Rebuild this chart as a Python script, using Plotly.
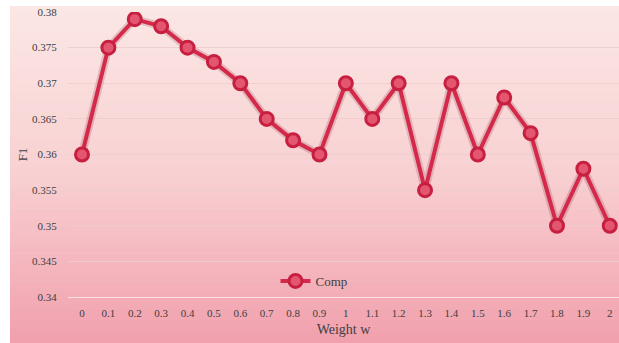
import plotly.graph_objects as go

# F1 score of the "Comp" model for each weight w
weights = ["0", "0.1", "0.2", "0.3", "0.4", "0.5", "0.6", "0.7", "0.8", "0.9", "1",
           "1.1", "1.2", "1.3", "1.4", "1.5", "1.6", "1.7", "1.8", "1.9", "2"]
comp_f1 = [0.360, 0.375, 0.379, 0.378, 0.375, 0.373, 0.370, 0.365, 0.362, 0.360, 0.370,
           0.365, 0.370, 0.355, 0.370, 0.360, 0.368, 0.363, 0.350, 0.358, 0.350]
y_ticks = [0.34, 0.345, 0.35, 0.355, 0.36, 0.365, 0.37, 0.375, 0.38]
y_tick_text = ["0.34", "0.345", "0.35", "0.355", "0.36", "0.365", "0.37", "0.375", "0.38"]

W, H = 619, 343
ML, MR, MT, MB = 68, 0, 12, 46
PW, PH = W - ML - MR, H - MT - MB

def px_x(p):
    return (p - ML) / PW

def px_y(p):
    return (H - MB - p) / PH

# vertical pink gradient behind the whole chart
top_rgb = (251, 231, 228)
mid_rgb = (248, 208, 210)
bot_rgb = (241, 160, 173)
shapes = []
n = 60
y0, y1 = 6, H
for i in range(n):
    t = i / (n - 1)
    if t < 0.5:
        a, b, s = top_rgb, mid_rgb, t / 0.5
    else:
        a, b, s = mid_rgb, bot_rgb, (t - 0.5) / 0.5
    c = tuple(round(a[k] + (b[k] - a[k]) * s) for k in range(3))
    ya = y0 + (y1 - y0) * i / n
    yb = y0 + (y1 - y0) * (i + 1) / n + 0.6
    shapes.append(dict(type="rect", xref="paper", yref="paper",
                       x0=px_x(10), x1=px_x(W + 2), y0=px_y(yb), y1=px_y(ya),
                       fillcolor="rgb(%d,%d,%d)" % c, line=dict(width=0), layer="below"))

fig = go.Figure()
# soft shadow under the line
fig.add_trace(go.Scatter(
    x=weights, y=comp_f1, mode="lines", showlegend=False, hoverinfo="skip",
    line=dict(color="rgba(120,20,40,0.18)", width=8),
))
fig.add_trace(go.Scatter(
    x=weights, y=comp_f1, mode="lines+markers", name="Comp",
    line=dict(color="#d4294b", width=4),
    marker=dict(symbol="circle", size=13, color="#e4566f",
                line=dict(color="#c71f40", width=3)),
))

serif = "Liberation Serif, Times New Roman, serif"
fig.update_layout(
    width=W, height=H,
    margin=dict(l=ML, r=MR, t=MT, b=MB),
    paper_bgcolor="white",
    plot_bgcolor="rgba(0,0,0,0)",
    shapes=shapes,
    font=dict(family=serif, size=11, color="#404040"),
    showlegend=True,
    legend=dict(x=px_x(314), y=px_y(281), xanchor="center", yanchor="middle",
                bgcolor="rgba(0,0,0,0)", font=dict(family=serif, size=13, color="#404040"),
                itemwidth=30),
    xaxis=dict(type="category", range=[-0.53, 20.35], showgrid=False,
               showline=True, linecolor="rgba(255,240,240,0.8)", linewidth=1,
               ticks="outside", ticklen=6, tickcolor="rgba(0,0,0,0)",
               tickfont=dict(family=serif, size=11, color="#404040"),
               title=dict(text="Weight w", standoff=5,
                          font=dict(family=serif, size=14, color="#404040"))),
    yaxis=dict(range=[0.34, 0.38], tickvals=y_ticks, ticktext=y_tick_text,
               showgrid=True, gridcolor="rgba(236,205,205,0.85)", gridwidth=1,
               zeroline=False, showline=False,
               ticks="outside", ticklen=8, tickcolor="rgba(0,0,0,0)",
               tickfont=dict(family=serif, size=11, color="#404040"),
               title=dict(text="F1", standoff=1,
                          font=dict(family=serif, size=13, color="#404040"))),
)

fig.write_html("out.html")
